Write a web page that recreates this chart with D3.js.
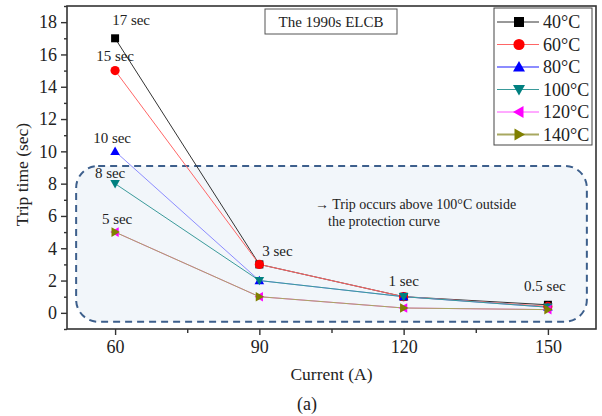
<!DOCTYPE html>
<html>
<head>
<meta charset="utf-8">
<script src="https://cdn.jsdelivr.net/npm/d3@7/dist/d3.min.js"></script>
<style>
  html, body { margin: 0; padding: 0; background: #fff; }
  svg text { font-family: "Liberation Serif", Tinos, "Times New Roman", Times, "DejaVu Serif", serif !important; fill: #222; }
</style>
</head>
<body>
<svg id="chart" width="602" height="416"></svg>
<script>
// Trip time of the 1990s ELCB versus current, per ambient temperature
const currents = [60, 90, 120, 150];
const seriesNames = ["40°C", "60°C", "80°C", "100°C", "120°C", "140°C"];
const trip40 = [17, 3, 1, 0.5];
const trip60 = [15, 3, 1, 0.4];
const trip80 = [10, 2, 1, 0.35];
const trip100 = [8, 2, 1, 0.35];
const trip120 = [5, 1, 0.3, 0.2];
const trip140 = [5, 1, 0.3, 0.2];
const xTicks = [60, 90, 120, 150];
const yTicks = [0, 2, 4, 6, 8, 10, 12, 14, 16, 18];
// value callouts: [current, trip time, text]
const callouts = [
  [60, 17, "17 sec"], [60, 15, "15 sec"], [60, 10, "10 sec"], [60, 8, "8 sec"],
  [60, 5, "5 sec"], [90, 3, "3 sec"], [120, 1, "1 sec"], [150, 0.5, "0.5 sec"]
];
const calloutOffsets = [[16, -13], [0, -10], [-3, -8], [-5, -6], [2, -8], [18, -8], [0, -11], [-3, -14]];

const series = [
  { name: seriesNames[0], values: trip40, line: "#333333", mark: "#000000", shape: "square" },
  { name: seriesNames[1], values: trip60, line: "#ff6666", mark: "#ff0000", shape: "circle" },
  { name: seriesNames[2], values: trip80, line: "#8c8cff", mark: "#0000ff", shape: "up" },
  { name: seriesNames[3], values: trip100, line: "#3a9a9a", mark: "#008080", shape: "down" },
  { name: seriesNames[4], values: trip120, line: "#ff55ff", mark: "#ff00ff", shape: "left" },
  { name: seriesNames[5], values: trip140, line: "#a8a860", mark: "#808000", shape: "right" }
];

const SERIF = "Liberation Serif";
const svg = d3.select("#chart");
const L = 67, R = 596, T = 6, B = 329;

const x = d3.scaleLinear().domain([50, 160]).range([L, R]);
const y = d3.scaleLinear().domain([-1, 19]).range([B, T]);

// protection-curve region
svg.append("rect")
  .attr("x", x(51.9)).attr("y", y(9.1))
  .attr("width", x(158.1) - x(51.9)).attr("height", y(-0.55) - y(9.1))
  .attr("rx", 22).attr("ry", 22)
  .attr("fill", "#f2f6fa")
  .attr("stroke", "#3d5f8c").attr("stroke-width", 2)
  .attr("stroke-dasharray", "7,5");

svg.append("text").attr("x", 315).attr("y", 209).attr("font-size", 14)
  .text("→ Trip occurs above 100°C outside");
svg.append("text").attr("x", 328).attr("y", 226).attr("font-size", 14)
  .text("the protection curve");

// frame
svg.append("rect").attr("x", L).attr("y", T).attr("width", R - L).attr("height", B - T)
  .attr("fill", "none").attr("stroke", "#333").attr("stroke-width", 1.6);

// axes
const yAxis = d3.axisLeft(y).tickValues(yTicks).tickSize(6).tickPadding(4);
svg.append("g").attr("transform", `translate(${L},0)`).call(yAxis);
const yMinor = d3.axisLeft(y).tickValues(d3.range(-1, 19.1, 2)).tickSize(3).tickFormat("");
svg.append("g").attr("transform", `translate(${L},0)`).call(yMinor);

const xAxis = d3.axisBottom(x).tickValues(xTicks).tickSize(6).tickPadding(5);
svg.append("g").attr("transform", `translate(0,${B})`).call(xAxis);
const xMinor = d3.axisBottom(x).tickValues([75, 105, 135]).tickSize(4).tickFormat("");
svg.append("g").attr("transform", `translate(0,${B})`).call(xMinor);

svg.selectAll("g").attr("font-family", SERIF);
svg.selectAll(".domain").remove();
svg.selectAll(".tick line").attr("stroke", "#333").attr("stroke-width", 1.4);
svg.selectAll(".tick text").attr("font-size", 18).attr("fill", "#222");

// axis titles
svg.append("text").attr("x", (L + R) / 2).attr("y", 380).attr("text-anchor", "middle")
  .attr("font-size", 17.5).text("Current (A)");
svg.append("text").attr("transform", `translate(28,${(T + B) / 2 + 7}) rotate(-90)`)
  .attr("text-anchor", "middle").attr("font-size", 17.5).text("Trip time (sec)");
svg.append("text").attr("x", 307).attr("y", 410).attr("text-anchor", "middle")
  .attr("font-size", 18).text("(a)");

// marker shapes
function markerPath(shape, s) {
  switch (shape) {
    case "square": return `M${-s},${-s}H${s}V${s}H${-s}Z`;
    case "circle": return d3.symbol(d3.symbolCircle, Math.PI * (s + 0.6) * (s + 0.6))();
    case "up": return `M0,${-s * 1.2}L${s * 1.2},${s * 0.9}L${-s * 1.2},${s * 0.9}Z`;
    case "down": return `M0,${s * 1.2}L${s * 1.2},${-s * 0.9}L${-s * 1.2},${-s * 0.9}Z`;
    case "left": return `M${-s * 1.2},0L${s * 0.9},${-s * 1.2}L${s * 0.9},${s * 1.2}Z`;
    case "right": return `M${s * 1.2},0L${-s * 0.9},${-s * 1.2}L${-s * 0.9},${s * 1.2}Z`;
  }
}

const line = d3.line().x((d, i) => x(currents[i])).y(d => y(d));
const plot = svg.append("g");
series.forEach(s => {
  plot.append("path").datum(s.values).attr("d", line)
    .attr("fill", "none").attr("stroke", s.line).attr("stroke-width", 1);
});
series.forEach(s => {
  plot.selectAll(null).data(s.values).join("path")
    .attr("transform", (d, i) => `translate(${x(currents[i])},${y(d)})`)
    .attr("d", markerPath(s.shape, 4))
    .attr("fill", s.mark);
});

// value callouts
svg.selectAll(".callout").data(callouts).join("text")
  .attr("class", "callout")
  .attr("x", (d, i) => x(d[0]) + calloutOffsets[i][0])
  .attr("y", (d, i) => y(d[1]) + calloutOffsets[i][1])
  .attr("text-anchor", "middle").attr("font-size", 15)
  .text(d => d[2]);

// title box
const tg = svg.append("g");
tg.append("rect").attr("x", 265).attr("y", 9).attr("width", 132).attr("height", 25)
  .attr("fill", "#fff").attr("stroke", "#555").attr("stroke-width", 1);
tg.append("text").attr("x", 331).attr("y", 26.5).attr("text-anchor", "middle")
  .attr("font-size", 15).text("The 1990s ELCB");

// legend
const lg = svg.append("g");
lg.append("rect").attr("x", 494).attr("y", 8).attr("width", 98).attr("height", 137)
  .attr("fill", "#fff").attr("stroke", "#444").attr("stroke-width", 1);
series.forEach((s, i) => {
  const cy = 22 + i * 22.5;
  lg.append("line").attr("x1", 497).attr("x2", 539).attr("y1", cy).attr("y2", cy)
    .attr("stroke", s.line).attr("stroke-width", (i === 2 || i === 5) ? 2 : 1);
  lg.append("path").attr("transform", `translate(519,${cy})`)
    .attr("d", markerPath(s.shape, 5)).attr("fill", s.mark);
  lg.append("text").attr("x", 543).attr("y", cy + 6).attr("font-size", 18).text(s.name);
});

svg.selectAll("text").attr("font-family", SERIF);
</script>
</body>
</html>
